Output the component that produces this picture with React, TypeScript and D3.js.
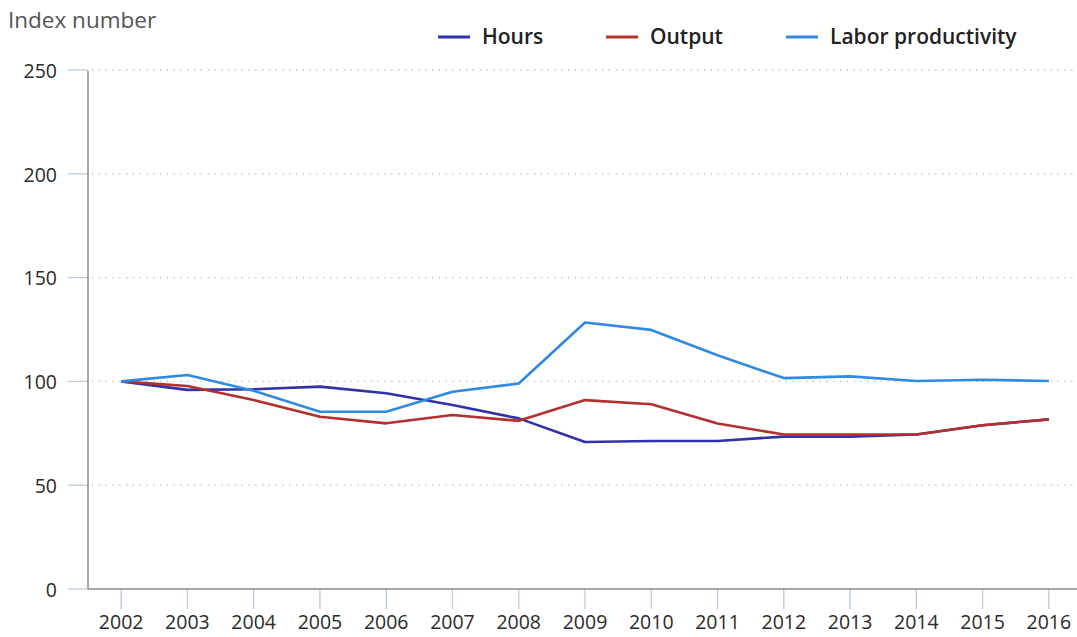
import React, { useEffect, useRef } from 'react';
import * as d3 from 'd3';

const years = ['2002', '2003', '2004', '2005', '2006', '2007', '2008', '2009', '2010', '2011', '2012', '2013', '2014', '2015', '2016'];
const hours = [100, 95.9, 96.2, 97.5, 94.3, 88.6, 82.2, 70.8, 71.3, 71.3, 73.4, 73.4, 74.4, 78.9, 81.7];
const output = [100, 97.8, 91, 83, 79.8, 83.8, 81, 91, 89, 79.7, 74.4, 74.4, 74.4, 78.9, 81.7];
const productivity = [100, 103.1, 95.5, 85.4, 85.4, 95, 99, 128.4, 124.8, 112.6, 101.6, 102.4, 100.2, 100.8, 100.2];
const yTicks = [0, 50, 100, 150, 200, 250];

const seriesNames = ['Hours', 'Output', 'Labor productivity'];
const seriesColors = ['#3131a9', '#b3302f', '#2f8ae0'];

const App = () => {
  const svgRef = useRef<SVGSVGElement>(null);

  useEffect(() => {
    const width = 1077;
    const height = 637;
    const svg = d3.select(svgRef.current).attr('width', width).attr('height', height);
    svg.selectAll('*').remove();

    const left = 88, right = 1082, top = 70, bottom = 589;
    const font = "'Open Sans', 'Noto Sans', sans-serif";

    const x = d3.scalePoint().domain(years).range([left, right]).padding(0.5);
    const y = d3.scaleLinear().domain([0, 250]).range([bottom, top]);

    // grid
    svg.append('g')
      .selectAll('line')
      .data(yTicks.filter(d => d > 0))
      .join('line')
      .attr('x1', left + 4)
      .attr('x2', width)
      .attr('y1', d => y(d))
      .attr('y2', d => y(d))
      .attr('stroke', '#b8b8b8')
      .attr('stroke-width', 1.3)
      .attr('stroke-dasharray', '1.3,5.5');

    // y ticks
    svg.append('g')
      .selectAll('line')
      .data(yTicks)
      .join('line')
      .attr('x1', left - 20)
      .attr('x2', left)
      .attr('y1', d => y(d))
      .attr('y2', d => y(d))
      .attr('stroke', '#b7cbe2')
      .attr('stroke-width', 1.3);

    svg.append('g')
      .selectAll('text')
      .data(yTicks)
      .join('text')
      .attr('x', left - 31)
      .attr('y', d => y(d) + 1)
      .attr('dy', '0.35em')
      .attr('text-anchor', 'end')
      .attr('font-family', font)
      .attr('font-size', 19.5)
      .attr('fill', '#2a2a2a')
      .text(d => d);

    // x ticks
    svg.append('g')
      .selectAll('line')
      .data(years)
      .join('line')
      .attr('x1', d => x(d)!)
      .attr('x2', d => x(d)!)
      .attr('y1', bottom)
      .attr('y2', bottom + 20)
      .attr('stroke', '#b7cbe2')
      .attr('stroke-width', 1.3);

    svg.append('g')
      .selectAll('text')
      .data(years)
      .join('text')
      .attr('x', d => x(d)!)
      .attr('y', bottom + 40)
      .attr('text-anchor', 'middle')
      .attr('font-family', font)
      .attr('font-size', 19.5)
      .attr('fill', '#2a2a2a')
      .text(d => d);

    // axes
    svg.append('line')
      .attr('x1', left).attr('x2', left)
      .attr('y1', top + 1).attr('y2', bottom)
      .attr('stroke', '#8a8a8a').attr('stroke-width', 1.5);
    svg.append('line')
      .attr('x1', left).attr('x2', width)
      .attr('y1', bottom).attr('y2', bottom)
      .attr('stroke', '#8a8a8a').attr('stroke-width', 1.5);

    // lines
    const line = d3.line<number>()
      .x((_, i) => x(years[i])!)
      .y(d => y(d));

    [hours, output, productivity].forEach((data, i) => {
      svg.append('path')
        .datum(data)
        .attr('d', line)
        .attr('fill', 'none')
        .attr('stroke', seriesColors[i])
        .attr('stroke-width', 2.6)
        .attr('stroke-linejoin', 'round');
    });

    // title
    svg.append('text')
      .attr('x', 8)
      .attr('y', 28)
      .attr('font-family', font)
      .attr('font-size', 22.5)
      .attr('fill', '#555')
      .text('Index number');

    // legend
    const legendX = [438, 606, 786];
    const legend = svg.append('g');
    seriesNames.forEach((name, i) => {
      legend.append('line')
        .attr('x1', legendX[i]).attr('x2', legendX[i] + 32)
        .attr('y1', 37).attr('y2', 37)
        .attr('stroke', seriesColors[i]).attr('stroke-width', 3);
      legend.append('text')
        .attr('x', legendX[i] + 44)
        .attr('y', 37)
        .attr('dy', '0.35em')
        .attr('font-family', font)
        .attr('font-size', 21)
        .attr('font-weight', 600)
        .attr('fill', '#222')
        .text(name);
    });
  }, []);

  return (
    <div style={{ position: 'fixed', left: 0, top: 0, width: 1077, height: 637, background: '#fff', overflow: 'hidden' }}>
      <svg ref={svgRef} style={{ display: 'block' }}></svg>
    </div>
  );
};

export default App;
